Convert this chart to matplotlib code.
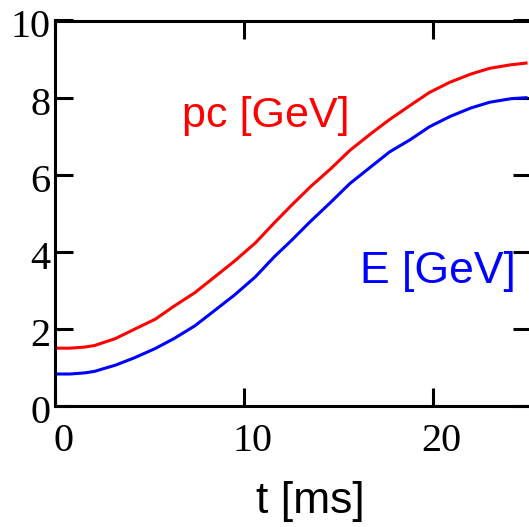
import matplotlib
matplotlib.use("Agg")
import matplotlib.pyplot as plt
import matplotlib.transforms as mtransforms

# Time axis samples [ms]
t_ms = [0.0, 0.8, 1.6, 2.1, 3.2, 4.2, 5.3, 6.3, 7.4, 8.4, 9.5, 10.6, 11.6,
        12.5, 13.5, 14.6, 15.6, 16.7, 17.7, 18.8, 19.8, 20.9, 22.0, 23.0,
        24.1, 25.0]

# Momentum pc [GeV]
pc_gev = [1.50, 1.50, 1.53, 1.57, 1.75, 1.99, 2.25, 2.59, 2.94, 3.33, 3.76,
          4.23, 4.75, 5.20, 5.68, 6.16, 6.63, 7.06, 7.43, 7.80, 8.13, 8.40,
          8.61, 8.76, 8.85, 8.90]

# Kinetic energy E [GeV]
e_gev = [0.83, 0.83, 0.86, 0.90, 1.06, 1.25, 1.49, 1.75, 2.08, 2.46, 2.88,
         3.35, 3.87, 4.29, 4.78, 5.29, 5.77, 6.20, 6.59, 6.91, 7.24, 7.51,
         7.73, 7.88, 7.97, 8.00]

x_ticks = [0, 10, 20]
y_ticks = [0, 2, 4, 6, 8, 10]

W, H = 529, 527
fig = plt.figure(figsize=(W / 100, H / 100), dpi=100)
fig.patch.set_facecolor("white")

x_max = 25.2
ax = fig.add_axes([55 / W, (H - 406) / H, (x_max * 18.9) / W, 385.5 / H])
ax.set_xlim(0, x_max)
ax.set_ylim(0, 10)

ax.plot(t_ms, pc_gev, color="#ff0000", lw=2.2, solid_capstyle="butt")
ax.plot(t_ms, e_gev, color="#0000ff", lw=2.2, solid_capstyle="butt")

for s in ax.spines.values():
    s.set_linewidth(2.2)
    s.set_color("black")

ax.set_xticks(x_ticks)
ax.set_yticks(y_ticks)
ax.tick_params(direction="in", length=13, width=2.2, top=True, right=True,
               colors="black")
ax.tick_params(axis="x", pad=12)
ax.tick_params(axis="y", pad=3)

tick_font = dict(family="Liberation Serif", size=29)
ax.set_xticklabels([str(v) for v in x_ticks], fontdict=tick_font)
ax.set_yticklabels([str(v) for v in y_ticks], fontdict=tick_font)

# nudge the x tick labels a little to the right
shift = mtransforms.ScaledTranslation(8.5 / 100, 0, fig.dpi_scale_trans)
for lab in ax.get_xticklabels():
    lab.set_transform(lab.get_transform() + shift)
shift_y = mtransforms.ScaledTranslation(0, -3 / 100, fig.dpi_scale_trans)
for lab in ax.get_yticklabels():
    lab.set_transform(lab.get_transform() + shift_y)

sans = "Liberation Sans"
fig.text(310 / W, 1 - 513 / H, "t [ms]", family=sans, size=32,
         ha="center", va="baseline", color="black")
fig.text(182 / W, 1 - 127 / H, "pc [GeV]", family=sans, size=31,
         ha="left", va="baseline", color="#ff0000")
fig.text(360 / W, 1 - 283 / H, "E [GeV]", family=sans, size=32,
         ha="left", va="baseline", color="#0000ff")

fig.savefig("out.png", dpi=100)
